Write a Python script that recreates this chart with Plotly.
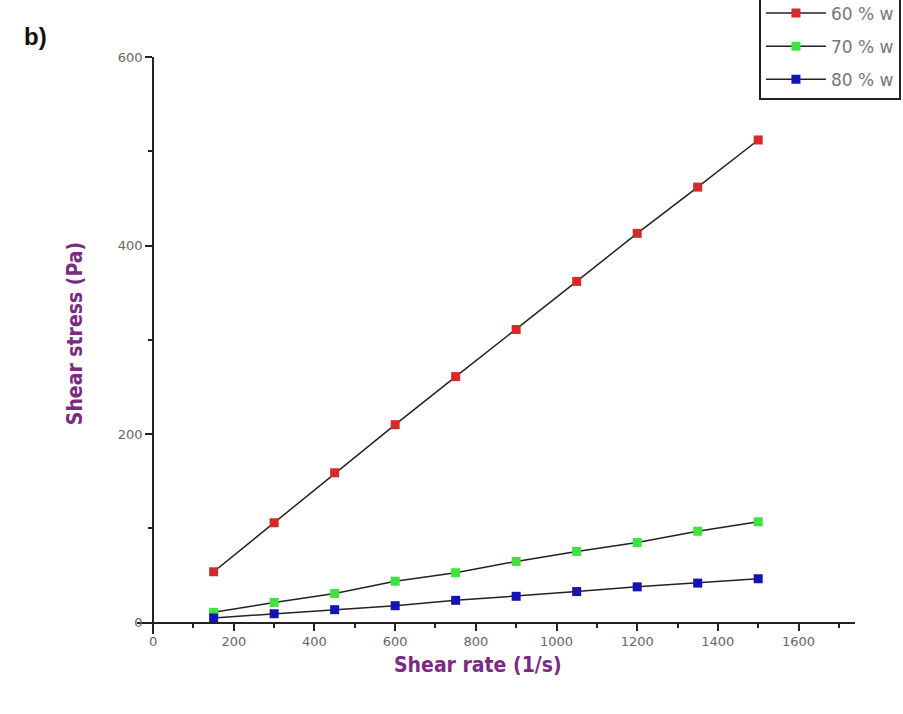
import plotly.graph_objects as go

shear_rate = [150, 300, 450, 600, 750, 900, 1050, 1200, 1350, 1500]
stress_60 = [54, 106, 159, 210, 261, 311, 362, 413, 462, 512]
stress_70 = [11, 21.5, 31, 44, 53, 65, 75.6, 85, 97, 107]
stress_80 = [5, 9.5, 13.8, 18, 23.7, 28, 33, 38, 42, 46.6]
series_names = ["60 % w", "70 % w", "80 % w"]
series_colors = ["#d42a2a", "#3fe23f", "#1414b4"]

x_tick_vals = [0, 200, 400, 600, 800, 1000, 1200, 1400, 1600]
y_tick_vals = [0, 200, 400, 600]

XR = [-40, 1740]
YR = [-12, 600]

fig = go.Figure()
for name, ys, col in zip(series_names, [stress_60, stress_70, stress_80], series_colors):
    fig.add_trace(go.Scatter(
        x=shear_rate, y=ys, name=name, mode="lines+markers",
        line=dict(color="#222222", width=1.5),
        marker=dict(symbol="square", size=9, color=col, line=dict(width=0)),
        legendgroup=name,
    ))

tickfont = dict(family="DejaVu Sans, Liberation Sans, Arial, sans-serif", size=13, color="#666666")
ypos = (0 - YR[0]) / (YR[1] - YR[0])
xpos = (0 - XR[0]) / (XR[1] - XR[0])

fig.update_layout(
    width=903, height=714,
    margin=dict(l=137, r=48, t=57, b=80, autoexpand=False),
    plot_bgcolor="white", paper_bgcolor="white",
    showlegend=True,
    legend=dict(
        x=1.064, xanchor="right", y=1.11, yanchor="top",
        bordercolor="#222222", borderwidth=2, bgcolor="white",
        font=dict(family="DejaVu Sans, Liberation Sans, Arial, sans-serif", size=17, color="#777777"),
        tracegroupgap=8, itemwidth=60,
    ),
    xaxis=dict(
        range=XR, showgrid=False, zeroline=False,
        showline=True, linecolor="#222222", linewidth=2,
        anchor="free", position=ypos,
        tickmode="array", tickvals=x_tick_vals,
        ticks="outside", ticklen=7, tickwidth=2, tickcolor="#222222",
        minor=dict(dtick=100, tick0=0, ticks="outside", ticklen=4, tickwidth=1.5, tickcolor="#222222"),
        tickfont=tickfont,
    ),
    yaxis=dict(
        range=YR, showgrid=False, zeroline=False,
        showline=True, linecolor="#222222", linewidth=2,
        anchor="free", position=xpos,
        tickmode="array", tickvals=y_tick_vals,
        ticks="outside", ticklen=7, tickwidth=2, tickcolor="#222222",
        minor=dict(dtick=100, tick0=0, ticks="outside", ticklen=4, tickwidth=1.5, tickcolor="#222222"),
        tickfont=tickfont,
    ),
    annotations=[
        dict(text="<b>Shear rate (1/s)</b>", xref="paper", yref="paper",
             x=0.475, y=-0.054, xanchor="center", yanchor="middle", showarrow=False,
             font=dict(family="DejaVu Sans Condensed, Liberation Sans Narrow, Arial Narrow, sans-serif", size=21, color="#7a2a82")),
        dict(text="<b>Shear stress (Pa)</b>", xref="paper", yref="paper",
             x=-0.086, y=0.52, xanchor="center", yanchor="middle", showarrow=False, textangle=-90,
             font=dict(family="DejaVu Sans Condensed, Liberation Sans Narrow, Arial Narrow, sans-serif", size=21, color="#7a2a82")),
        dict(text="<b>b)</b>", xref="paper", yref="paper",
             x=-0.142, y=1.035, xanchor="center", yanchor="middle", showarrow=False,
             font=dict(family="Liberation Sans, Arial, sans-serif", size=24, color="#111111")),
    ],
)

fig.write_html("out.html")
